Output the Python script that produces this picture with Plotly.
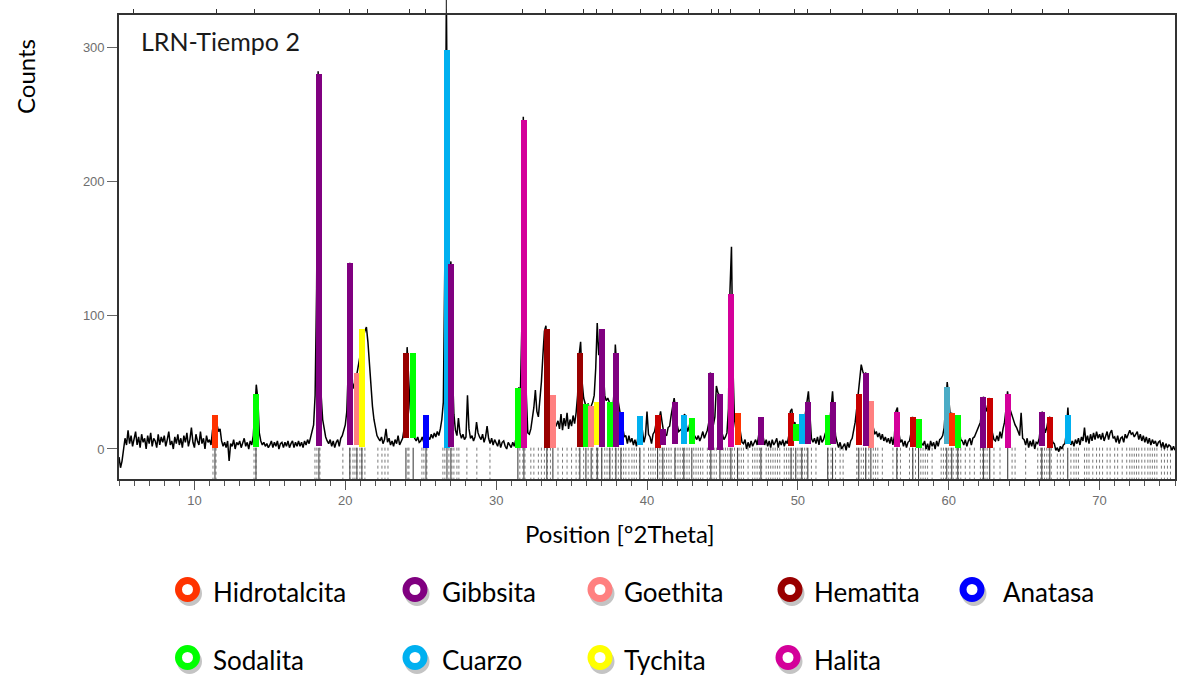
import plotly.graph_objects as go

W, H = 1179, 681

# ---------------------------------------------------------------------------
# Diffractogram: counts sampled every 0.1 deg 2-theta, from 5.0 to 75.0
# (one row per degree)
# ---------------------------------------------------------------------------
theta_start = 5.0
theta_step = 0.1
counts = [
    -6, -14, -9, 1, 8, 3, 14, 4, 10, 2,        # 5
    7, 13, 3, 9, 1, 11, 5, 8, 0, 10,           # 6
    4, 12, 2, 8, 6, 1, 11, 3, 9, 5,            # 7
    10, 2, 7, 13, 3, 6, 0, 9, 4, 11,           # 8
    3, 8, 1, 10, 5, 12, 2, 7, 16, 5,           # 9
    1, 11, 6, 3, 13, 4, 8, 0, 10, 5,           # 10
    7, 3, 14, 20, 24, 18, 13, 15, 6, 2,        # 11
    5, 1, 6, -9, 4, 2, 7, 0, 5, 3,             # 12
    6, 1, 4, 8, 2, 5, 0, 6, 3, 10,             # 13
    28, 48, 38, 12, 6, 3, 5, 2, 4, 1,          # 14
    3, 6, 1, 5, 2, 6, 0, 4, 5, 1,              # 15
    5, 2, 6, 1, 4, 6, 1, 5, 2, 6,              # 16
    2, 5, 1, 6, 3, 7, 4, 8, 12, 18,            # 17
    40, 120, 282, 150, 40, 22, 14, 9, 6, 4,    # 18
    7, 2, 6, 1, 5, 7, 2, 8, 10, 14,            # 19
    18, 28, 60, 139, 65, 45, 48, 52, 58, 65,   # 20
    70, 78, 84, 88, 91, 80, 62, 45, 32, 22,    # 21
    14, 10, 8, 6, 9, 4, 7, 15, 5, 8,           # 22
    3, 6, 2, 7, 4, 10, 3, 6, 8, 15,            # 23
    38, 76, 50, 30, 20, 12, 8, 6, 9, 5,        # 24
    6, 9, 5, 10, 13, 9, 7, 11, 8, 12,          # 25
    9, 13, 10, 15, 22, 35, 140, 340, 180, 120, # 26
    140, 60, 26, 14, 10, 23, 12, 8, 11, 7,     # 27
    9, 40, 15, 8, 10, 6, 9, 20, 12, 9,         # 28
    7, 11, 5, 9, 17, 8, 4, 8, 3, 7,            # 29
    5, 2, 7, 1, 5, 6, 2, 0, 5, 3,              # 30
    1, 5, 2, 7, 25, 46, 38, 90, 248, 130,      # 31
    40, 12, 11, 15, 23, 31, 44, 28, 24, 35,    # 32
    50, 70, 88, 92, 60, 38, 40, 28, 24, 16,    # 33
    18, 21, 15, 26, 14, 23, 17, 27, 15, 22,    # 34
    17, 25, 19, 27, 40, 70, 80, 50, 38, 33,    # 35
    30, 34, 28, 32, 35, 40, 60, 94, 70, 85,    # 36
    89, 60, 40, 36, 38, 35, 30, 25, 40, 78,    # 37
    60, 35, 28, 22, 17, 9, 10, 4, 10, 5,       # 38
    8, 3, 7, 2, 9, 14, 22, 11, 5, 10,          # 39
    28, 11, 9, 4, 11, 13, 21, 25, 22, 28,      # 40
    20, 13, 11, 10, 16, 17, 25, 32, 38, 30,    # 41
    18, 13, 14, 15, 24, 26, 18, 13, 17, 22,    # 42
    22, 11, 9, 7, 10, 6, 9, 13, 8, 11,         # 43
    14, 20, 57, 35, 18, 24, 47, 42, 40, 15,    # 44
    10, 7, 9, 12, 30, 118, 151, 60, 22, 14,    # 45
    24, 20, 12, 5, 4, 7, 0, 5, 1, 6,           # 46
    2, 4, 7, 3, 10, 22, 18, 9, 3, 7,           # 47
    2, 6, 1, 7, 3, 5, 8, 1, 6, 3,              # 48
    7, 2, 6, 4, 10, 28, 30, 18, 20, 14,        # 49
    12, 10, 22, 26, 18, 25, 35, 43, 20, 8,     # 50
    5, 8, 4, 9, 3, 10, 5, 7, 11, 14,           # 51
    25, 20, 30, 43, 25, 10, 5, 1, 5, 0,        # 52
    2, 4, -1, 5, 1, 6, 8, 14, 20, 30,          # 53
    41, 52, 63, 58, 55, 57, 40, 30, 25, 18,    # 54
    16, 11, 13, 9, 12, 7, 11, 6, 9, 5,         # 55
    8, 4, 9, 3, 10, 28, 31, 12, 5, 7,          # 56
    2, 6, 1, 5, 6, 12, 24, 16, 10, 14,         # 57
    22, 12, 4, 3, 6, 0, 4, -1, 6, 2,           # 58
    5, 0, 6, 2, 7, 8, 10, 16, 30, 50,          # 59
    38, 25, 27, 22, 18, 20, 25, 14, 7, 6,      # 60
    3, 7, 2, 6, 8, 3, 8, 9, 12, 15,            # 61
    18, 20, 30, 39, 32, 28, 34, 38, 22, 12,    # 62
    7, 6, 10, 6, 13, 8, 15, 20, 30, 43,        # 63
    32, 28, 26, 22, 18, 16, 12, 10, 27, 8,     # 64
    7, 3, 8, 1, 6, 2, 7, 0, 5, 4,              # 65
    8, 20, 28, 18, 12, 16, 22, 24, 10, 5,      # 66
    4, -1, 1, -2, 2, 0, 3, 4, 12, 31,          # 67
    12, 3, 6, 2, 7, 4, 8, 3, 9, 6,             # 68
    16, 5, 10, 4, 11, 6, 12, 7, 13, 8,         # 69
    11, 7, 12, 6, 10, 13, 7, 12, 14, 8,        # 70
    9, 5, 10, 4, 8, 9, 5, 11, 8, 12,           # 71
    14, 11, 12, 9, 11, 13, 7, 11, 6, 10,       # 72
    5, 9, 4, 8, 3, 7, 4, 6, 2, 5,              # 73
    6, 1, 5, 0, 4, 1, 3, 2, -1, 2,             # 74
    -1,                                        # 75
]
two_theta = [round(theta_start + i * theta_step, 1) for i in range(len(counts))]

# ---------------------------------------------------------------------------
# Identified phases: peak position (deg), peak top and bar foot (counts)
# ---------------------------------------------------------------------------
hidrotalcita_pos = [11.36, 46.0, 60.2]
hidrotalcita_top = [25, 27, 27]
hidrotalcita_base = [1, 3, 2]

gibbsita_pos = [18.25, 20.3, 27.0, 37.0, 37.94, 41.05, 41.85, 44.23, 44.83,
                47.55, 50.66, 52.3, 54.5, 62.3, 66.17]
gibbsita_top = [280, 139, 138, 89.5, 72, 15, 35, 57, 41,
                24, 35, 35, 57, 39, 27.6]
gibbsita_base = [2, 3, 1.5, 1.5, 1.5, 3, 4, -1, -1,
                 3, 4, 4, 2, 1, 2]

goethita_pos = [20.77, 33.76, 36.3, 54.84]
goethita_top = [57, 40, 32, 36]
goethita_base = [3, 1, 1.5, 1]

hematita_pos = [24.02, 33.36, 35.55, 40.7, 49.55, 54.04, 57.62, 62.72, 66.7]
hematita_top = [72, 89.5, 72, 25, 27, 41, 24, 38, 24]
hematita_base = [8, 1, 1.5, 1, 2, 3, 1.5, 1, 1]

anatasa_pos = [25.35, 38.27]
anatasa_top = [25, 27.6]
anatasa_base = [1, 3]

sodalita_pos = [14.08, 24.5, 31.44, 35.95, 37.54, 42.97, 49.86, 51.98, 58.0, 60.6]
sodalita_top = [41, 72, 45.5, 33.6, 35, 23, 18.6, 25, 22.5, 25]
sodalita_base = [1.5, 8, 1, 1.5, 1.5, 4, 6, 3, 1, 1]

cuarzo_pos = [26.74, 39.53, 42.44, 50.26, 59.87, 67.89]
cuarzo_top = [298, 24.6, 25, 26, 46, 25]
cuarzo_base = [1, 3, 4, 4, 4, 4]

tychita_pos = [21.1, 36.7]
tychita_top = [89.5, 35]
tychita_base = [1.5, 3]

halita_pos = [31.84, 45.56, 56.56, 63.91]
halita_top = [245.5, 115.7, 27.6, 41]
halita_base = [1, 1.5, 1.5, 1]

# Peak list (ticks on the top frame)
peak_list = [5.93, 11.49, 14.01, 18.32, 20.31, 21.50, 24.28, 25.34, 26.74,
             31.77, 33.30, 35.82, 36.68, 37.74, 39.59, 40.98, 41.78, 42.77,
             44.30, 44.76, 45.56, 47.48, 49.80, 50.66, 52.18, 54.30, 56.62,
             57.95, 60.07, 62.65, 64.18, 66.23, 67.96]

# Reference pattern lines (sticks below the baseline)
reference_lines = [
    11.23, 11.43, 13.95, 14.08, 17.99, 18.12, 18.32, 19.84, 20.31, 20.51,
    20.64, 20.77, 20.97, 21.10, 21.30, 22.16, 22.43, 22.63, 22.83, 24.15,
    24.22, 25.08, 25.21, 25.41, 26.47, 26.60, 26.87, 27.07, 27.20, 27.40,
    27.53, 28.06, 28.72, 29.59, 31.57, 31.77, 31.91, 32.3, 32.5, 32.8,
    33.0, 33.2, 33.4, 33.6, 34.1, 34.4, 34.7, 35.0, 35.3, 35.5, 35.8,
    36.1, 36.4, 36.65, 36.75, 37.0, 37.2, 37.35, 37.5, 37.7, 37.9, 38.1,
    38.3, 38.45, 38.6, 38.8, 39.0, 39.15, 39.3, 39.5, 39.8, 40.1, 40.25,
    40.4, 40.55, 40.7, 40.85, 41.0, 41.15, 41.3, 41.45, 41.6, 41.9, 42.05,
    42.2, 42.35, 42.5, 42.65, 42.8, 43.1, 43.25, 43.4, 43.55, 43.7, 44.0,
    44.15, 44.3, 44.45, 44.6, 44.9, 45.05, 45.2, 45.35, 45.5, 45.65, 45.8,
    46.1, 46.25, 46.4, 46.7, 47.0, 47.15, 47.3, 47.45, 47.6, 47.9, 48.05,
    48.2, 48.35, 48.5, 48.65, 48.8, 49.1, 49.25, 49.4, 49.55, 49.7, 50.0,
    50.15, 50.3, 50.45, 50.6, 50.9, 51.2, 52.0, 52.2, 52.5, 52.8, 53.0,
    53.9, 54.0, 54.2, 54.35, 54.5, 54.7, 55.0, 55.15, 55.3, 55.6, 56.3,
    56.6, 56.8, 57.4, 57.6, 57.8, 58.0, 58.15, 58.3, 58.45, 58.6, 58.9,
    59.5, 59.65, 59.8, 60.0, 60.15, 60.3, 60.5, 60.65, 60.8, 61.1, 61.4,
    61.7, 62.1, 62.25, 62.4, 62.55, 62.7, 63.0, 63.4, 64.2, 64.4, 65.1,
    65.9, 66.1, 66.2, 66.35, 66.5, 66.65, 66.8, 67.2, 67.4, 67.6, 68.1,
    68.3, 68.45, 68.6, 69.0, 69.15, 69.3, 69.55, 69.8, 70.0, 70.2, 70.5,
    70.7, 71.0, 71.2, 71.5, 71.8, 72.0, 72.15, 72.3, 72.45, 72.6, 72.8,
    73.0, 73.2, 73.35, 73.5, 73.65, 73.8, 74.1, 74.3, 74.5, 74.7,
]

# Phase styles (drawing order: later phases sit on top)
phases = [
    ("Cuarzo", "#00B0F0", cuarzo_pos, cuarzo_top, cuarzo_base),
    ("Hematita", "#990000", hematita_pos, hematita_top, hematita_base),
    ("Sodalita", "#00FF00", sodalita_pos, sodalita_top, sodalita_base),
    ("Goethita", "#FF8080", goethita_pos, goethita_top, goethita_base),
    ("Tychita", "#FFFF00", tychita_pos, tychita_top, tychita_base),
    ("Anatasa", "#0000FF", anatasa_pos, anatasa_top, anatasa_base),
    ("Hidrotalcita", "#FF3300", hidrotalcita_pos, hidrotalcita_top, hidrotalcita_base),
    ("Gibbsita", "#800080", gibbsita_pos, gibbsita_top, gibbsita_base),
    ("Halita", "#D4009A", halita_pos, halita_top, halita_base),
]
phase_color = {name: color for name, color, *_ in phases}

# Per-bar shading where the bars are drawn in a lighter tone
bar_shades = {
    "Hematita": ["#990000", "#990000", "#990000", "#C80000", "#C80000",
                 "#C80000", "#C80000", "#C80000", "#C80000"],
    "Cuarzo": ["#00B0F0", "#00B0F0", "#00B0F0", "#00B0F0", "#4BACC6", "#00B0F0"],
}

# Legend layout: (phase, ring centre x, ring centre y, label x) in pixels
legend_slots = [
    ("Hidrotalcita", 187.5, 589.5, 211), ("Gibbsita", 415, 589.5, 440),
    ("Goethita", 600, 589.5, 622), ("Hematita", 790, 589.5, 812),
    ("Anatasa", 972, 589.5, 1001),
    ("Sodalita", 187.5, 657.5, 211), ("Cuarzo", 415, 657.5, 440),
    ("Tychita", 600, 657.5, 622), ("Halita", 788, 657.5, 812),
]

X_RANGE = [5, 75]
Y_RANGE = [-22.4, 323.9]
plot_left, plot_right, plot_top, plot_bottom = 119, 1175, 15, 479
x_dom = [plot_left / W, plot_right / W]
y_dom = [1 - plot_bottom / H, 1 - plot_top / H]

fig = go.Figure()


def stick_path(positions, y_from, y_to):
    xs, ys = [], []
    for p in positions:
        xs += [p, p, None]
        ys += [y_from, y_to, None]
    return xs, ys


# Reference pattern sticks (dotted) and matched-peak sticks (solid)
sx, sy = stick_path(reference_lines, 1, Y_RANGE[0] - 1)
fig.add_trace(go.Scatter(x=sx, y=sy, mode="lines",
                         line=dict(color="#7a7a7a", width=1, dash="dot"),
                         hoverinfo="skip", showlegend=False))
matched = [p for _, _, pos, _, _ in phases for p in pos]
mx, my = stick_path(matched, 1, Y_RANGE[0] - 1)
fig.add_trace(go.Scatter(x=mx, y=my, mode="lines",
                         line=dict(color="#444444", width=1.1),
                         hoverinfo="skip", showlegend=False))

# Measured pattern
fig.add_trace(go.Scatter(x=two_theta, y=counts, mode="lines",
                         line=dict(color="#000000", width=1.5),
                         hoverinfo="skip", showlegend=False))

# Phase bars on an overlaying subplot so they sit above the pattern
for name, color, pos, top, base in phases:
    fig.add_trace(go.Bar(
        x=pos, y=[t - b for t, b in zip(top, base)], base=base,
        width=0.4, marker=dict(color=bar_shades.get(name, color), line=dict(width=0)),
        name=name, showlegend=False, xaxis="x2", yaxis="y2",
        hoverinfo="skip"))

tick_font = dict(family="Liberation Sans", size=13, color="#6e6e6e")
label_font = dict(family="Lato", size=24, color="#000000")

fig.update_layout(
    width=W, height=H,
    margin=dict(l=0, r=0, t=0, b=0),
    paper_bgcolor="white", plot_bgcolor="rgba(0,0,0,0)",
    barmode="overlay", bargap=0,
    showlegend=False,
    xaxis=dict(domain=x_dom, range=X_RANGE, tick0=0, dtick=10,
               ticks="outside", ticklen=9, tickwidth=1, tickcolor="#555555",
               minor=dict(dtick=1, ticks="outside", ticklen=5, tickwidth=1,
                          tickcolor="#555555"),
               showline=True, mirror=True, linecolor="#333333", linewidth=1.6,
               showgrid=False, zeroline=False, tickfont=tick_font,
               anchor="y"),
    yaxis=dict(domain=y_dom, range=Y_RANGE, tickvals=[0, 100, 200, 300],
               ticks="outside", ticklen=10, tickwidth=1, tickcolor="#666666",
               showline=True, mirror=True, linecolor="#333333", linewidth=1.6,
               showgrid=False, zeroline=False, tickfont=tick_font,
               anchor="x"),
    xaxis2=dict(overlaying="x", side="top", range=X_RANGE, anchor="y2",
                tickvals=peak_list, ticks="outside", ticklen=5, tickwidth=1,
                tickcolor="#333333", showticklabels=False, showline=False,
                showgrid=False, zeroline=False),
    yaxis2=dict(overlaying="y", range=Y_RANGE, visible=False, anchor="x2"),
)

# The strongest reflection runs past the top of the frame
peak_theta = two_theta[counts.index(max(counts))]
fig.add_shape(type="line", xref="x", yref="paper", x0=peak_theta, x1=peak_theta,
              y0=y_dom[1], y1=1.0, line=dict(color="#333333", width=1.2))

# Titles
fig.add_annotation(text="LRN-Tiempo 2", xref="paper", yref="paper",
                   x=139 / W, y=1 - 41 / H, xanchor="left", yanchor="middle",
                   showarrow=False, font=dict(family="Lato", size=25, color="#1a1a1a"))
fig.add_annotation(text="Counts", xref="paper", yref="paper",
                   x=25 / W, y=1 - 77 / H, xanchor="center", yanchor="middle",
                   textangle=-90, showarrow=False, font=label_font)
fig.add_annotation(text="Position [º2Theta]", xref="paper", yref="paper",
                   x=620 / W, y=1 - 533 / H, xanchor="center", yanchor="middle",
                   showarrow=False, font=label_font)

# Legend: coloured rings (white centre) with a soft grey drop shadow
ring_r, ring_w = 9, 7
for name, cx, cy, tx in legend_slots:
    for dx, dy, col in ((2, 4, "#c4c4c4"), (0, 0, phase_color[name])):
        fig.add_shape(type="circle", xref="paper", yref="paper",
                      x0=(cx + dx - ring_r) / W, x1=(cx + dx + ring_r) / W,
                      y0=1 - (cy + dy + ring_r) / H, y1=1 - (cy + dy - ring_r) / H,
                      line=dict(color=col, width=ring_w), fillcolor="white")
    fig.add_annotation(text=name, xref="paper", yref="paper",
                       x=tx / W, y=1 - (cy + 2) / H, xanchor="left", yanchor="middle",
                       showarrow=False, font=dict(family="Lato", size=26, color="#000000"))

fig.write_html("out.html")
